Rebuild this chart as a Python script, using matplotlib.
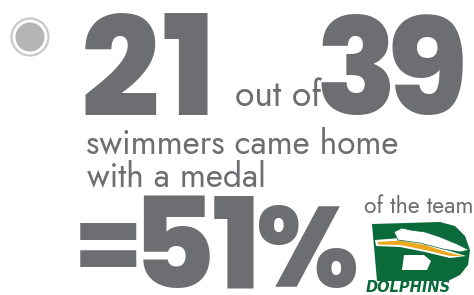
import numpy as np
import matplotlib
matplotlib.use("Agg")
from matplotlib import pyplot as plt
from matplotlib.patches import Circle, Polygon
from matplotlib.font_manager import FontProperties
from matplotlib.textpath import TextPath

# infographic values
medalists = 21
team_size = 39
pct_label = 51
out_of = "out of"
line1 = "swimmers came home"
line2 = "with a medal"
team_text = "of the team"
club = "DOLPHINS"

GREY = "#6d6e71"
GREEN = "#0a6a3a"
GOLD = "#e9a81f"

BIG = FontProperties(family=["Poppins", "DejaVu Sans"], weight=800)
SMALL = FontProperties(family=["Jost", "DejaVu Sans"], weight=400)
LOGO = FontProperties(family=["DejaVu Sans"], weight="bold", style="italic")

fig = plt.figure(figsize=(4.74, 2.95), dpi=100)
ax = fig.add_axes([0, 0, 1, 1])
ax.set_xlim(0, 474)
ax.set_ylim(295, 0)
ax.axis("off")


def ink(s, fp):
    # ink box of the string per 1 em
    b = TextPath((0, 0), s, size=1, prop=fp).get_extents()
    return b.x0, b.x1, b.y0, b.y1


def glyph(s, left, top, bottom, width=None, fp=BIG, color=GREY):
    # ink starts at left, spans top..bottom (or fits width, centred vertically)
    x0, x1, y0, y1 = ink(s, fp)
    em = (bottom - top) / (y1 - y0) if width is None else width / (x1 - x0)
    yc = (top + bottom) / 2 + (y0 + y1) / 2 * em
    ax.text(left - x0 * em, yc, s, fontproperties=fp, fontsize=em * 0.72,
            color=color, ha="left", va="baseline")
    return left + (x1 - x0) * em


def row(chars, left, top, bottom, gap):
    x = left
    for ch in chars:
        x = glyph(ch, x, top, bottom) + gap
    return x


def line(s, fp, left, base, em, color=GREY):
    x0 = ink(s, fp)[0]
    ax.text(left - x0 * em, base, s, fontproperties=fp, fontsize=em * 0.72,
            color=color, ha="left", va="baseline")


def em_for(s, fp, width):
    x0, x1, _, _ = ink(s, fp)
    return width / (x1 - x0)


# radio button
ax.add_patch(Circle((30, 37), 18.5, fc="none", ec="#c9c9c9", lw=1.6))
ax.add_patch(Circle((30, 37), 14.5, fc="#b5b5b5", ec="none"))

# big numbers
row(str(medalists), 85, 13, 115, 8)
row(str(team_size), 321, 15, 115, 2)
x = glyph("=", 80, 212, 278, width=56) + 7
x = row(str(pct_label), x, 195, 288, 5)
glyph("%", x, 205, 288)

# small text, width fitted
em_o = em_for(out_of, SMALL, 86)
line(out_of, SMALL, 236, 106, em_o)
em_s = em_for(line1, SMALL, 311)
line(line1, SMALL, 87, 153, em_s)
line(line2, SMALL, 87, 186, em_s)
em_t = em_for(team_text, SMALL, 107)
line(team_text, SMALL, 365, 213, em_t)

# logo: green D
d_outer = [(372, 224), (440, 222), (455, 226), (465, 236), (470, 250),
           (468, 265), (460, 275), (448, 281), (377, 281)]
ax.add_patch(Polygon(d_outer, closed=True, fc=GREEN, ec="none"))
ax.add_patch(Polygon([(404, 255), (424, 255), (431, 261), (427, 270), (402, 270)],
                     closed=True, fc="white", ec="none"))
# white band and gold swoosh
band = [(375, 240), (400, 238), (425, 243), (450, 251), (466, 256),
        (450, 258), (425, 252), (400, 247), (376, 246)]
ax.add_patch(Polygon(band, closed=True, fc="white", ec="none"))
sw = [(378, 242), (400, 240.5), (425, 245), (450, 253), (463, 256),
      (450, 256), (425, 250), (400, 245), (378, 244.5)]
ax.add_patch(Polygon(sw, closed=True, fc=GOLD, ec="none"))
# white dolphin
dol = [(394, 232), (402, 228), (410, 230), (425, 232), (440, 237), (457, 244),
       (469, 250), (460, 252), (443, 249), (420, 243), (398, 240)]
ax.add_patch(Polygon(dol, closed=True, fc="white", ec=GREEN, lw=0.5))
em_c = em_for(club, LOGO, 84)
line(club, LOGO, 366, 292, em_c, color=GREEN)

fig.savefig("out.png", dpi=100)
